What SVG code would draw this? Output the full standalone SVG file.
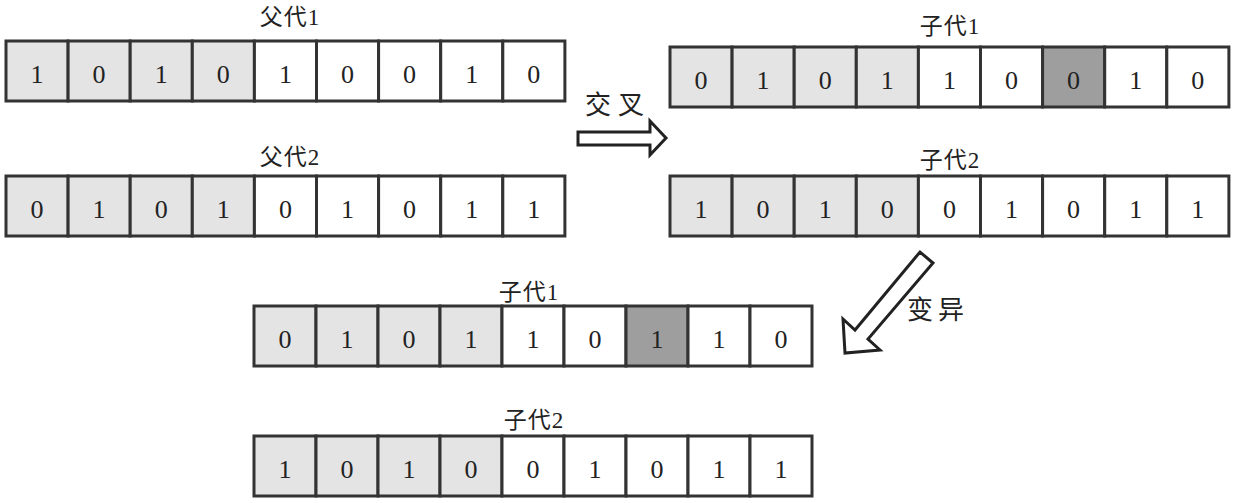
<svg xmlns="http://www.w3.org/2000/svg" width="1238" height="503" viewBox="0 0 1238 503">
<style>
.c{stroke:#333;stroke-width:3;fill:#fff}
.g{fill:#e4e4e4}
.d{fill:#9e9e9e}
.n{font-family:"Liberation Serif",serif;font-size:26px;fill:#222;text-anchor:middle}
.l{font-family:"Liberation Serif","Noto Sans CJK SC",serif;font-size:23px;fill:#222;text-anchor:middle;letter-spacing:1px}
.a{fill:#fff;stroke:#222;stroke-width:3;stroke-linejoin:miter}
.t{font-family:"Noto Sans CJK SC",sans-serif;font-size:26px;fill:#222}
</style>
<rect width="1238" height="503" fill="#fff"/>
<g id="parent1" transform="translate(6,41)">
<rect class="c g" x="0" y="0" width="62.1" height="60"/><rect class="c g" x="62.1" y="0" width="62.1" height="60"/><rect class="c g" x="124.2" y="0" width="62.1" height="60"/><rect class="c g" x="186.3" y="0" width="62.1" height="60"/><rect class="c" x="248.4" y="0" width="62.1" height="60"/><rect class="c" x="310.5" y="0" width="62.1" height="60"/><rect class="c" x="372.6" y="0" width="62.1" height="60"/><rect class="c" x="434.7" y="0" width="62.1" height="60"/><rect class="c" x="496.8" y="0" width="62.1" height="60"/>
<text class="n" x="31" y="42">1</text><text class="n" x="93.1" y="42">0</text><text class="n" x="155.2" y="42">1</text><text class="n" x="217.3" y="42">0</text><text class="n" x="279.4" y="42">1</text><text class="n" x="341.5" y="42">0</text><text class="n" x="403.6" y="42">0</text><text class="n" x="465.7" y="42">1</text><text class="n" x="527.8" y="42">0</text>
<text class="l" x="284" y="-16">父代1</text>
</g>
<g id="parent2" transform="translate(6,176)">
<rect class="c g" x="0" y="0" width="62.1" height="60"/><rect class="c g" x="62.1" y="0" width="62.1" height="60"/><rect class="c g" x="124.2" y="0" width="62.1" height="60"/><rect class="c g" x="186.3" y="0" width="62.1" height="60"/><rect class="c" x="248.4" y="0" width="62.1" height="60"/><rect class="c" x="310.5" y="0" width="62.1" height="60"/><rect class="c" x="372.6" y="0" width="62.1" height="60"/><rect class="c" x="434.7" y="0" width="62.1" height="60"/><rect class="c" x="496.8" y="0" width="62.1" height="60"/>
<text class="n" x="31" y="42">0</text><text class="n" x="93.1" y="42">1</text><text class="n" x="155.2" y="42">0</text><text class="n" x="217.3" y="42">1</text><text class="n" x="279.4" y="42">0</text><text class="n" x="341.5" y="42">1</text><text class="n" x="403.6" y="42">0</text><text class="n" x="465.7" y="42">1</text><text class="n" x="527.8" y="42">1</text>
<text class="l" x="284" y="-11">父代2</text>
</g>
<g id="child1a" transform="translate(670,47)">
<rect class="c g" x="0" y="0" width="62.1" height="60"/><rect class="c g" x="62.1" y="0" width="62.1" height="60"/><rect class="c g" x="124.2" y="0" width="62.1" height="60"/><rect class="c g" x="186.3" y="0" width="62.1" height="60"/><rect class="c" x="248.4" y="0" width="62.1" height="60"/><rect class="c" x="310.5" y="0" width="62.1" height="60"/><rect class="c d" x="372.6" y="0" width="62.1" height="60"/><rect class="c" x="434.7" y="0" width="62.1" height="60"/><rect class="c" x="496.8" y="0" width="62.1" height="60"/>
<text class="n" x="31" y="42">0</text><text class="n" x="93.1" y="42">1</text><text class="n" x="155.2" y="42">0</text><text class="n" x="217.3" y="42">1</text><text class="n" x="279.4" y="42">1</text><text class="n" x="341.5" y="42">0</text><text class="n" x="403.6" y="42">0</text><text class="n" x="465.7" y="42">1</text><text class="n" x="527.8" y="42">0</text>
<text class="l" x="280" y="-13">子代1</text>
</g>
<g id="child2a" transform="translate(670,176)">
<rect class="c g" x="0" y="0" width="62.1" height="60"/><rect class="c g" x="62.1" y="0" width="62.1" height="60"/><rect class="c g" x="124.2" y="0" width="62.1" height="60"/><rect class="c g" x="186.3" y="0" width="62.1" height="60"/><rect class="c" x="248.4" y="0" width="62.1" height="60"/><rect class="c" x="310.5" y="0" width="62.1" height="60"/><rect class="c" x="372.6" y="0" width="62.1" height="60"/><rect class="c" x="434.7" y="0" width="62.1" height="60"/><rect class="c" x="496.8" y="0" width="62.1" height="60"/>
<text class="n" x="31" y="42">1</text><text class="n" x="93.1" y="42">0</text><text class="n" x="155.2" y="42">1</text><text class="n" x="217.3" y="42">0</text><text class="n" x="279.4" y="42">0</text><text class="n" x="341.5" y="42">1</text><text class="n" x="403.6" y="42">0</text><text class="n" x="465.7" y="42">1</text><text class="n" x="527.8" y="42">1</text>
<text class="l" x="280" y="-8">子代2</text>
</g>
<g id="child1b" transform="translate(254,306)">
<rect class="c g" x="0" y="0" width="62" height="60"/><rect class="c g" x="62" y="0" width="62" height="60"/><rect class="c g" x="124" y="0" width="62" height="60"/><rect class="c g" x="186" y="0" width="62" height="60"/><rect class="c" x="248" y="0" width="62" height="60"/><rect class="c" x="310" y="0" width="62" height="60"/><rect class="c d" x="372" y="0" width="62" height="60"/><rect class="c" x="434" y="0" width="62" height="60"/><rect class="c" x="496" y="0" width="62" height="60"/>
<text class="n" x="31" y="42">0</text><text class="n" x="93" y="42">1</text><text class="n" x="155" y="42">0</text><text class="n" x="217" y="42">1</text><text class="n" x="279" y="42">1</text><text class="n" x="341" y="42">0</text><text class="n" x="403" y="42">1</text><text class="n" x="465" y="42">1</text><text class="n" x="527" y="42">0</text>
<text class="l" x="275" y="-6">子代1</text>
</g>
<g id="child2b" transform="translate(254,436)">
<rect class="c g" x="0" y="0" width="62" height="60"/><rect class="c g" x="62" y="0" width="62" height="60"/><rect class="c g" x="124" y="0" width="62" height="60"/><rect class="c g" x="186" y="0" width="62" height="60"/><rect class="c" x="248" y="0" width="62" height="60"/><rect class="c" x="310" y="0" width="62" height="60"/><rect class="c" x="372" y="0" width="62" height="60"/><rect class="c" x="434" y="0" width="62" height="60"/><rect class="c" x="496" y="0" width="62" height="60"/>
<text class="n" x="31" y="42">1</text><text class="n" x="93" y="42">0</text><text class="n" x="155" y="42">1</text><text class="n" x="217" y="42">0</text><text class="n" x="279" y="42">0</text><text class="n" x="341" y="42">1</text><text class="n" x="403" y="42">0</text><text class="n" x="465" y="42">1</text><text class="n" x="527" y="42">1</text>
<text class="l" x="280" y="-8">子代2</text>
</g>
<g id="connectors">
<polygon class="a" points="578,132 650,132 650,121 666,138 650,155 650,145 578,145"/>
<text class="t" x="585" y="114" letter-spacing="7">交叉</text>
<polygon class="a" points="845,353 843,319 855,330 920,252 933,263 868,339 880,350"/>
<text class="t" x="907" y="319" letter-spacing="5">变异</text>
</g>
</svg>
